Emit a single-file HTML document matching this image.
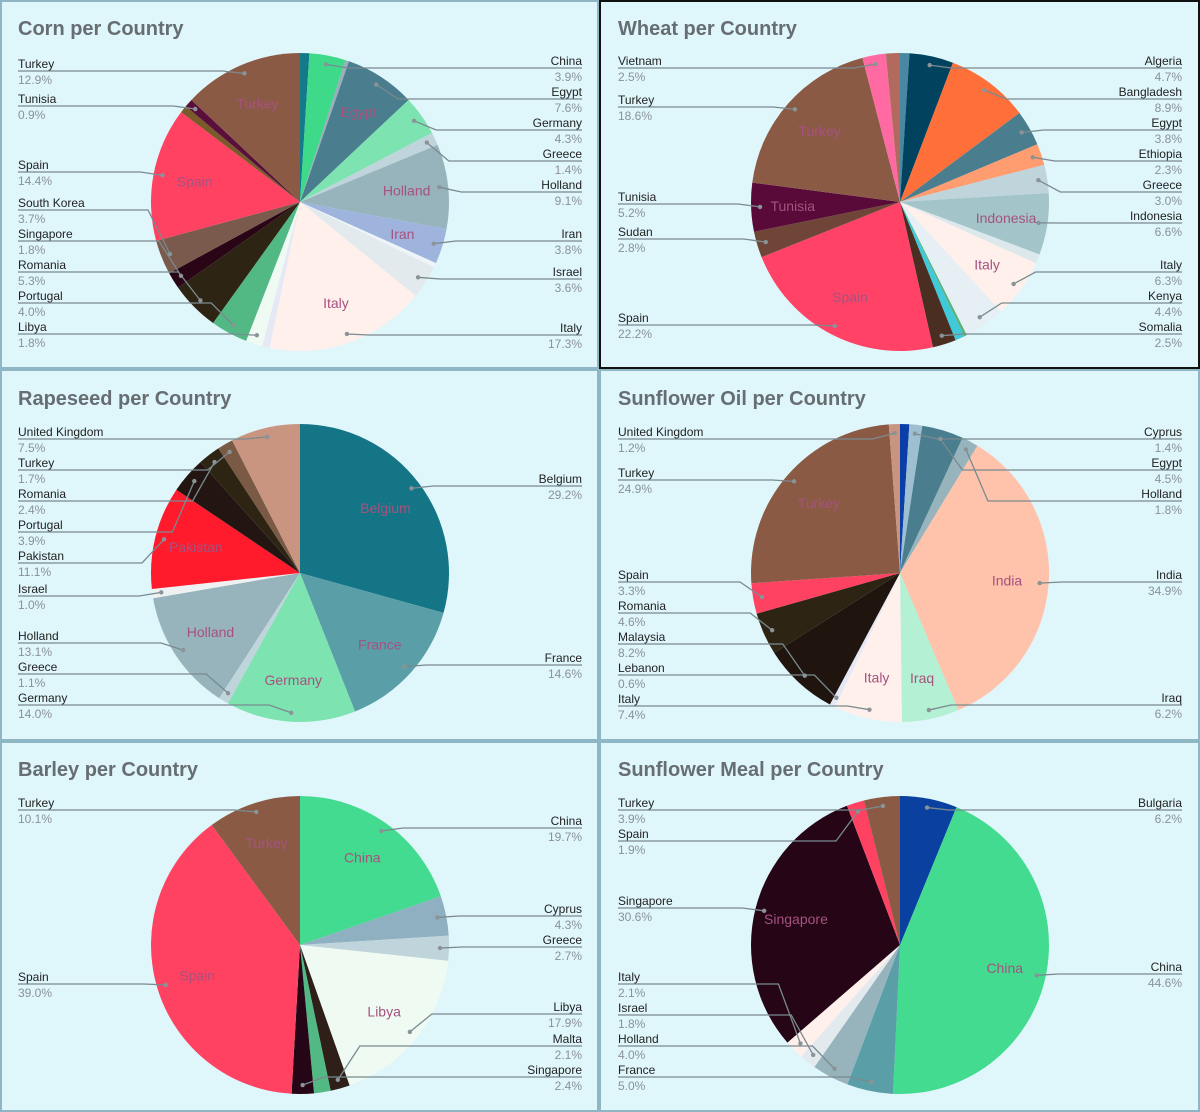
<!DOCTYPE html>
<html><head><meta charset="utf-8">
<style>
html,body{margin:0;padding:0;background:#c9dfe6;}
body{width:1200px;height:1112px;position:relative;overflow:hidden;font-family:"Liberation Sans",sans-serif;}
.panel{position:absolute;background:#dff6fb;box-sizing:border-box;border:2px solid #8fb6c4;}
svg{position:absolute;left:0;top:0;}
</style></head>
<body>
<div class="panel" style="left:0;top:0;width:599px;height:369px"></div>
<div class="panel" style="left:599px;top:0;width:601px;height:369px;border-color:#111"></div>
<div class="panel" style="left:0;top:369px;width:599px;height:372px"></div>
<div class="panel" style="left:599px;top:369px;width:601px;height:372px"></div>
<div class="panel" style="left:0;top:741px;width:599px;height:371px"></div>
<div class="panel" style="left:599px;top:741px;width:601px;height:371px"></div>
<svg id="chart" width="1200" height="1112"></svg>
<script>
// ---- data ----
const cornNames=["","China","","Egypt","Germany","Greece","Holland","Iran","","Israel","Italy","","Libya","Portugal","Romania","Singapore","South Korea","Spain","","Tunisia","Turkey"];
const cornValues=[1.0,3.9,0.4,7.6,4.3,1.4,9.1,3.8,0.5,3.6,17.3,0.8,1.8,4.0,5.3,1.8,3.7,14.4,0.8,0.9,12.9];
const wheatNames=["","Algeria","Bangladesh","Egypt","Ethiopia","Greece","Indonesia","","Italy","Kenya","","","Somalia","Spain","Sudan","Tunisia","Turkey","Vietnam",""];
const wheatValues=[1.0,4.7,8.9,3.8,2.3,3.0,6.6,1.0,6.3,4.4,0.3,1.0,2.5,22.2,2.8,5.2,18.6,2.5,1.5];
const rapeNames=["Belgium","France","Germany","Greece","Holland","Israel","Pakistan","Portugal","Romania","Turkey","United Kingdom"];
const rapeValues=[29.2,14.6,14.0,1.1,13.1,1.0,11.1,3.9,2.4,1.7,7.5];
const oilNames=["","Cyprus","Egypt","Holland","India","Iraq","Italy","Lebanon","Malaysia","Romania","Spain","Turkey","United Kingdom"];
const oilValues=[1.0,1.4,4.5,1.8,34.9,6.2,7.4,0.6,8.2,4.6,3.3,24.9,1.2];
const barleyNames=["China","Cyprus","Greece","Libya","Malta","","Singapore","Spain","Turkey"];
const barleyValues=[19.7,4.3,2.7,17.9,2.1,1.8,2.4,39.0,10.1];
const mealNames=["Bulgaria","China","France","Holland","Israel","Italy","Singapore","Spain","Turkey"];
const mealValues=[6.2,44.6,5.0,4.0,1.8,2.1,30.6,1.9,3.9];

// ---- styling / layout ----
const charts=[
 {id:"corn",title:"Corn per Country",ox:0,oy:0,cy:202,names:cornNames,values:cornValues,
  colors:["#137a8a","#3fd98a","#9aaebb","#4a7d8e","#7de3b0","#c0d4dc","#97b3bc","#9fb4dd","#eef4f7","#e3eaee","#fff0eb","#e6e8f5","#effaf2","#52b985","#2e2414","#2a0516","#7a5a4c","#ff4162","#7a5a2a","#5a0e3a","#8a5a44"],
  ly:{Turkey:63,Tunisia:98,Spain:164,"South Korea":202,Singapore:233,Romania:264,Portugal:295,Libya:326,China:60,Egypt:91,Germany:122,Greece:153,Holland:184,Iran:233,Israel:271,Italy:327},
  inner:["Turkey","Egypt","Spain","Holland","Iran","Italy"]},
 {id:"wheat",title:"Wheat per Country",ox:600,oy:0,cy:202,names:wheatNames,values:wheatValues,
  colors:["#4a87a0","#01435f","#ff6f3a","#4a7d8e","#ff9c70","#c0d4dc","#a3c5ca","#dde8ec","#fff0eb","#e6eff3","#5bb37a","#40c9d8","#4a2e22","#ff4266","#6f4537","#5a0a38","#8a5a44","#ff6aa2","#b36a5e"],
  ly:{Vietnam:60,Turkey:99,Tunisia:196,Sudan:231,Spain:317,Algeria:60,Bangladesh:91,Egypt:122,Ethiopia:153,Greece:184,Indonesia:215,Italy:264,Kenya:295,Somalia:326},
  inner:["Turkey","Tunisia","Spain","Indonesia","Italy"]},
 {id:"rapeseed",title:"Rapeseed per Country",ox:0,oy:370,cy:573,names:rapeNames,values:rapeValues,
  colors:["#137585","#5a9ea8","#7de3b0","#c0d4dc","#97b3bc","#eef0f2","#ff1a2c","#231612","#2e2414","#7a5a44","#c99580"],
  ly:{"United Kingdom":431,Turkey:462,Romania:493,Portugal:524,Pakistan:555,Israel:588,Holland:635,Greece:666,Germany:697,Belgium:478,France:657},
  inner:["Belgium","Pakistan","Holland","France","Germany"]},
 {id:"sunflower-oil",title:"Sunflower Oil per Country",ox:600,oy:370,cy:573,names:oilNames,values:oilValues,
  colors:["#0a3faa","#9dbfd0","#4a7d8e","#97b3bc","#ffc2aa","#b4f0d4","#fff0eb","#e6e8f5","#1f140e","#2e2414","#ff4162","#8a5a44","#c99580"],
  ly:{"United Kingdom":431,Turkey:472,Spain:574,Romania:605,Malaysia:636,Lebanon:667,Italy:698,Cyprus:431,Egypt:462,Holland:493,India:574,Iraq:697},
  inner:["Turkey","India","Italy","Iraq"]},
 {id:"barley",title:"Barley per Country",ox:0,oy:741,cy:945,names:barleyNames,values:barleyValues,
  colors:["#43db8f","#8eb0c0","#c0d4dc","#effaf2","#2e2018","#52b985","#250516","#ff4162","#8a5a44"],
  ly:{Turkey:802,Spain:976,China:820,Cyprus:908,Greece:939,Libya:1006,Malta:1038,Singapore:1069},
  inner:["Turkey","China","Spain","Libya"]},
 {id:"sunflower-meal",title:"Sunflower Meal per Country",ox:600,oy:741,cy:945,names:mealNames,values:mealValues,
  colors:["#0a40a0","#43db8f","#5a9ea8","#97b3bc","#e3eaee","#fff0eb","#250516","#ff4162","#8a5a44"],
  ly:{Turkey:802,Spain:833,Singapore:900,Italy:976,Israel:1007,Holland:1038,France:1069,Bulgaria:802,China:966},
  inner:["Singapore","China"]}
];
const NS="http://www.w3.org/2000/svg";
const svg=document.getElementById("chart");
function mk(tag,attrs,parent){const e=document.createElementNS(NS,tag);for(const k in attrs)e.setAttribute(k,attrs[k]);(parent||svg).appendChild(e);return e;}
const R=149;
charts.forEach(c=>{
  const g=mk("g",{});
  
  
  const t=mk("text",{x:c.ox+18,y:c.oy+35,"font-size":20,"font-weight":"bold",fill:"#676e72"},g);
  t.textContent=c.title;
  
  
  const cx=c.ox+300, cy=c.cy;
  const total=c.values.reduce((a,b)=>a+b,0);
  const angle=v=>v/total*2*Math.PI;
  const pt=(a,r)=>[cx+r*Math.sin(a),cy-r*Math.cos(a)];
  let acc=0;
  const overlay=[];
  c.values.forEach((v,i)=>{
    const a0=angle(acc), a1=angle(acc+v); acc+=v;
    const p0=pt(a0,R), p1=pt(a1,R);
    const large=(a1-a0)>Math.PI?1:0;
    const p=mk("path",{d:`M${cx},${cy}L${p0[0]},${p0[1]}A${R},${R} 0 ${large} 1 ${p1[0]},${p1[1]}Z`,fill:c.colors[i]},g);
    const nm=c.names[i]||'other';
    
    
    const am=(a0+a1)/2;
    if(c.names[i] && c.inner.includes(c.names[i])){overlay.push({type:"inner",name:c.names[i],p:pt(am,R*0.72)});}
    if(c.names[i] && c.ly[c.names[i]]!==undefined){
      overlay.push({type:"label",name:c.names[i],v:v,am:am,dot:pt(am,R*0.94)});
    }
  });
  overlay.forEach(o=>{
    if(o.type==="inner"){
      const it=mk("text",{x:o.p[0],y:o.p[1]+5,"font-size":14,"text-anchor":"middle",fill:"#a6527f"},g);
      it.textContent=o.name;
      
      
      return;
    }
    const right=Math.sin(o.am)>=0;
    const y=c.ly[o.name];
    const lineY=y+8;
    const tx=right?c.ox+582:c.ox+18;
    const bend=right?o.dot[0]+22:o.dot[0]-22;
    const ln=mk("polyline",{points:`${tx},${lineY} ${bend},${lineY} ${o.dot[0]},${o.dot[1]}`,fill:"none",stroke:"#7a8a90","stroke-width":1.3},g);
    
    
    const d=mk("circle",{cx:o.dot[0],cy:o.dot[1],r:2.2,fill:"#8a9498"},g);
    
    
    const anchor=right?"end":"start";
    const n=mk("text",{x:tx,y:y+5,"font-size":12,"text-anchor":anchor,fill:"#222"},g);
    n.textContent=o.name;
    
    
    const pc=mk("text",{x:tx,y:y+21,"font-size":12,"text-anchor":anchor,fill:"#8a9296"},g);
    pc.textContent=o.v.toFixed(1)+"%";
    
    
  });
});
</script>
</body></html>
